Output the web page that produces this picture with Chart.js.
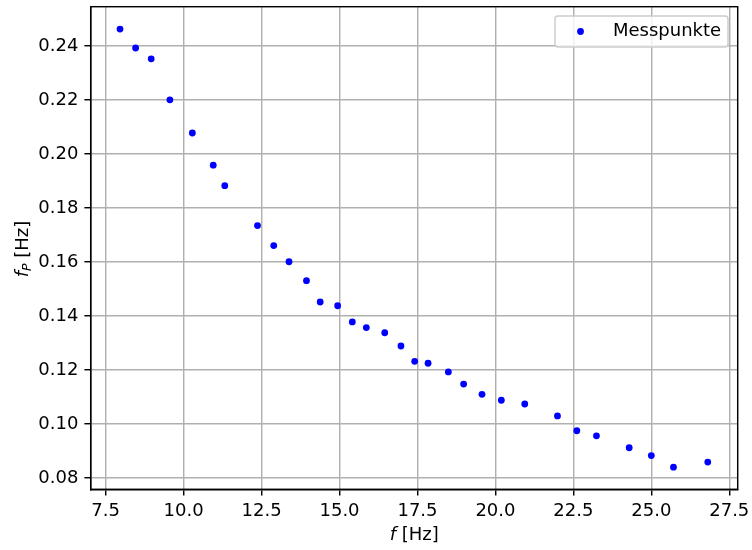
<!DOCTYPE html>
<html>
<head>
<meta charset="utf-8">
<script src="https://cdn.jsdelivr.net/npm/chart.js@4/dist/chart.umd.min.js"></script>
<style>
html, body { margin: 0; padding: 0; background: #fff; }
</style>
</head>
<body>
<canvas id="chart" width="752" height="550"></canvas>
<script>
const fValues = [7.96, 8.46, 8.96, 9.56, 10.28, 10.95, 11.32, 12.37, 12.89, 13.38,
  13.94, 14.38, 14.94, 15.41, 15.86, 16.45, 16.97, 17.41, 17.84, 18.49,
  18.98, 19.57, 20.19, 20.94, 21.99, 22.61, 23.24, 24.29, 25.00, 25.71, 26.81];
const fpValues = [0.2463, 0.2393, 0.2353, 0.2201, 0.2078, 0.1959, 0.1883, 0.1735, 0.1661, 0.1601,
  0.1531, 0.1452, 0.1438, 0.1378, 0.1357, 0.1338, 0.1289, 0.1232, 0.1225, 0.1193,
  0.1148, 0.1110, 0.1088, 0.1074, 0.1030, 0.0975, 0.0956, 0.0912, 0.0883, 0.0840, 0.0859];

const xTickValues = [7.5, 10.0, 12.5, 15.0, 17.5, 20.0, 22.5, 25.0, 27.5];
const yTickValues = [0.08, 0.10, 0.12, 0.14, 0.16, 0.18, 0.20, 0.22, 0.24];
const seriesLabel = "Messpunkte";

const FONT = "DejaVu Sans";
const FS = 18;
const LW = 1.44;

let points = fValues.map((f, i) => ({ x: f, y: fpValues[i] }));

// frame, axis titles and legend (matplotlib look)
const extras = {
  id: "extras",
  afterDraw(chart) {
    const ctx = chart.ctx;
    const a = chart.chartArea;
    ctx.save();

    ctx.strokeStyle = "#000";
    ctx.lineWidth = LW;
    ctx.strokeRect(a.left, a.top, a.right - a.left, a.bottom - a.top);

    // x title: f [Hz]
    ctx.fillStyle = "#000";
    ctx.textBaseline = "alphabetic";
    ctx.textAlign = "left";
    ctx.font = "italic " + FS + "px '" + FONT + "'";
    let wf = ctx.measureText("f").width;
    ctx.font = FS + "px '" + FONT + "'";
    let wr = ctx.measureText(" [Hz]").width;
    let cx = (a.left + a.right) / 2;
    let x0 = cx - (wf + wr) / 2;
    ctx.font = "italic " + FS + "px '" + FONT + "'";
    ctx.fillText("f", x0, 540);
    ctx.font = FS + "px '" + FONT + "'";
    ctx.fillText(" [Hz]", x0 + wf, 540);

    // y title: f_P [Hz]
    ctx.save();
    ctx.translate(27.5, (a.top + a.bottom) / 2 + 1);
    ctx.rotate(-Math.PI / 2);
    ctx.font = "italic " + FS + "px '" + FONT + "'";
    wf = ctx.measureText("f").width;
    ctx.font = "italic " + (FS * 0.7) + "px '" + FONT + "'";
    let wp = ctx.measureText("P").width;
    ctx.font = FS + "px '" + FONT + "'";
    wr = ctx.measureText(" [Hz]").width;
    x0 = -(wf + wp + wr) / 2;
    ctx.font = "italic " + FS + "px '" + FONT + "'";
    ctx.fillText("f", x0, 0);
    ctx.font = "italic " + (FS * 0.7) + "px '" + FONT + "'";
    ctx.fillText("P", x0 + wf, 3.5);
    ctx.font = FS + "px '" + FONT + "'";
    ctx.fillText(" [Hz]", x0 + wf + wp, 0);
    ctx.restore();

    // legend box
    const lx = 555, ly = 16, lw = 173, lh = 31;
    ctx.beginPath();
    ctx.roundRect(lx, ly, lw, lh, 3);
    ctx.fillStyle = "rgba(255,255,255,0.8)";
    ctx.fill();
    ctx.strokeStyle = "#cccccc";
    ctx.lineWidth = LW;
    ctx.stroke();
    ctx.beginPath();
    ctx.arc(580.5, 31.5, 3.4, 0, Math.PI * 2);
    ctx.fillStyle = "blue";
    ctx.fill();
    ctx.fillStyle = "#000";
    ctx.font = FS + "px '" + FONT + "'";
    ctx.textBaseline = "middle";
    ctx.fillText(seriesLabel, 613, 31.5);

    ctx.restore();
  }
};

new Chart(document.getElementById("chart"), {
  type: "scatter",
  data: {
    datasets: [{
      label: seriesLabel,
      data: points,
      backgroundColor: "blue",
      borderColor: "blue",
      borderWidth: 0,
      pointRadius: 3.4,
      pointHoverRadius: 3.4
    }]
  },
  options: {
    responsive: false,
    animation: false,
    devicePixelRatio: 1,
    layout: { padding: { top: 6.7, right: 14.3, left: 0, bottom: 0 } },
    plugins: {
      legend: { display: false },
      tooltip: { enabled: false }
    },
    scales: {
      x: {
        type: "linear",
        min: 7.02,
        max: 27.77,
        afterFit: s => { s.height = 60.7; s.paddingLeft = 0; s.paddingRight = 0; },
        afterBuildTicks: s => { s.ticks = xTickValues.map(v => ({ value: v })); },
        grid: { color: "#b0b0b0", lineWidth: LW, tickColor: "#000", tickLength: 6.3 },
        border: { display: true, color: "#000", width: LW },
        ticks: {
          color: "#000",
          padding: 5,
          maxRotation: 0,
          autoSkip: false,
          font: { family: FONT, size: FS },
          callback: v => Number(v).toFixed(1)
        }
      },
      y: {
        type: "linear",
        min: 0.0758,
        max: 0.2546,
        afterFit: s => { s.width = 90.7; s.paddingTop = 0; s.paddingBottom = 0; },
        afterBuildTicks: s => { s.ticks = yTickValues.map(v => ({ value: v })); },
        grid: { color: "#b0b0b0", lineWidth: LW, tickColor: "#000", tickLength: 6.3 },
        border: { display: true, color: "#000", width: LW },
        ticks: {
          color: "#000",
          padding: 6,
          autoSkip: false,
          font: { family: FONT, size: FS },
          callback: v => Number(v).toFixed(2)
        }
      }
    }
  },
  plugins: [extras]
});
</script>
</body>
</html>
